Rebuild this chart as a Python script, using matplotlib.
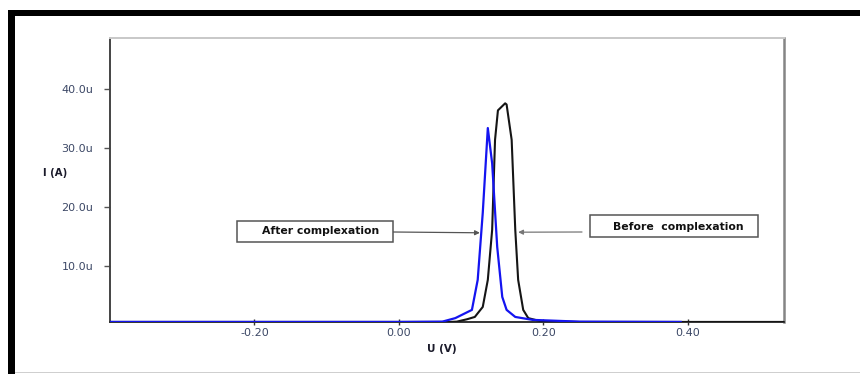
import matplotlib
matplotlib.use("Agg")
import matplotlib.pyplot as plt
from matplotlib.patches import Rectangle

# Data (current in microamps, potential in volts)
before_v = [-0.40, 0.00, 0.070, 0.080, 0.094, 0.105, 0.116, 0.123, 0.129, 0.133, 0.137,
            0.147, 0.149, 0.156, 0.161, 0.165, 0.172, 0.179, 0.195, 0.25, 0.40, 0.533]
before_i = [0.45, 0.45, 0.45, 0.5, 0.9, 1.3, 3.0, 7.6, 16.1, 31.4, 36.4,
            37.6, 37.4, 31.4, 16.1, 7.6, 2.5, 1.1, 0.6, 0.45, 0.45, 0.45]
after_v = [-0.40, 0.00, 0.060, 0.078, 0.101, 0.109, 0.116, 0.123, 0.129, 0.136,
           0.143, 0.149, 0.161, 0.185, 0.25, 0.39]
after_i = [0.45, 0.45, 0.5, 1.1, 2.5, 7.6, 19.0, 33.4, 27.4, 13.2,
           4.7, 2.5, 1.3, 0.8, 0.5, 0.45]
xticks = [-0.20, 0.00, 0.20, 0.40]
xtick_labels = ["-0.20", "0.00", "0.20", "0.40"]
yticks = [10, 20, 30, 40]
ytick_labels = ["10.0u", "20.0u", "30.0u", "40.0u"]

W, H = 860, 374
fig = plt.figure(figsize=(W / 100, H / 100), dpi=100)
fig.patch.set_facecolor("white")

def fx(px):
    return px / W

def fy(py):
    return 1 - py / H

# outer frame
fig.patches.append(Rectangle((fx(8), fy(16)), 1 - fx(8), 6 / H, transform=fig.transFigure,
                             facecolor="black", edgecolor="none", zorder=0))
fig.patches.append(Rectangle((fx(8), 0), 7 / W, fy(10), transform=fig.transFigure,
                             facecolor="black", edgecolor="none", zorder=0))
fig.patches.append(Rectangle((fx(15), fy(373)), 1 - fx(15), 1.2 / H, transform=fig.transFigure,
                             facecolor="#cfcfcf", edgecolor="none", zorder=0))

ax = fig.add_axes([fx(110), fy(322), fx(784) - fx(110), fy(38) - fy(322)])
ax.plot(before_v, before_i, color="#151515", lw=1.5, zorder=3)
ax.plot(after_v, after_i, color="#1414f0", lw=1.6, zorder=4)

ax.set_xlim(-0.40, 0.533)
ax.set_ylim(0.44, 48.7)

ax.spines["left"].set_color("#444444")
ax.spines["left"].set_linewidth(1.4)
ax.spines["bottom"].set_color("#333333")
ax.spines["bottom"].set_linewidth(1.4)
ax.spines["top"].set_color("#c8c8c8")
ax.spines["top"].set_linewidth(1.4)
ax.spines["right"].set_color("#858585")
ax.spines["right"].set_linewidth(1.8)

tick_color = "#3c4866"
ax.set_xticks(xticks)
ax.set_xticklabels(xtick_labels)
ax.set_yticks(yticks)
ax.set_yticklabels(ytick_labels)
ax.tick_params(axis="x", direction="inout", length=5, width=1, color="#333333",
               labelsize=8, labelcolor=tick_color, pad=2)
ax.tick_params(axis="y", direction="out", length=4, width=1, color="#555555",
               labelsize=8, labelcolor=tick_color, pad=8)

fig.text(fx(55), fy(173), "I (A)", fontsize=7.3, fontweight="bold", color="#1a1a2a",
         ha="center", va="center")
fig.text(fx(442), fy(349), "U (V)", fontsize=7.5, fontweight="bold", color="#1a1a2a",
         ha="center", va="center")

# annotation boxes
fig.patches.append(Rectangle((fx(237), fy(242)), 156 / W, 21 / H, transform=fig.transFigure,
                             facecolor="white", edgecolor="#555555", lw=1.1, zorder=5))
fig.text(fx(321), fy(231.5), "After complexation", fontsize=7.8, fontweight="bold",
         color="#111111", ha="center", va="center", zorder=6)
fig.patches.append(Rectangle((fx(590), fy(237)), 168 / W, 22 / H, transform=fig.transFigure,
                             facecolor="white", edgecolor="#555555", lw=1.1, zorder=5))
fig.text(fx(678), fy(226.5), "Before  complexation", fontsize=7.8, fontweight="bold",
         color="#111111", ha="center", va="center", zorder=6)

ax.annotate("", xy=(0.112, 15.6), xycoords="data",
            xytext=(fx(393), fy(232)), textcoords="figure fraction",
            arrowprops=dict(arrowstyle="-|>", color="#555555", lw=0.9,
                            mutation_scale=7, shrinkA=0, shrinkB=0), annotation_clip=False)
ax.annotate("", xy=(0.165, 15.7), xycoords="data",
            xytext=(fx(582), fy(232)), textcoords="figure fraction",
            arrowprops=dict(arrowstyle="-|>", color="#777777", lw=0.9,
                            mutation_scale=7, shrinkA=0, shrinkB=0), annotation_clip=False)

fig.savefig("out.png", dpi=100, facecolor="white")
